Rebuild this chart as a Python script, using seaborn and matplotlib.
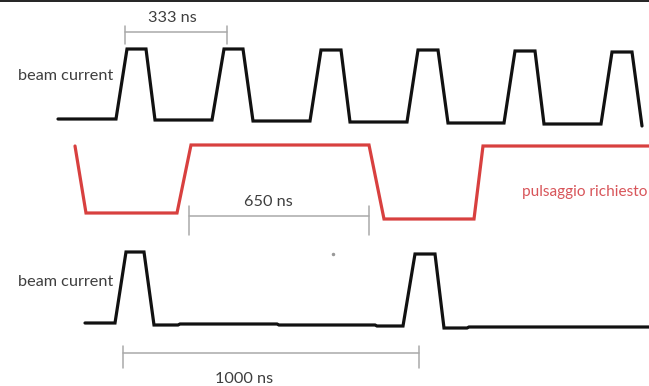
import matplotlib
matplotlib.use("Agg")
import matplotlib.pyplot as plt
import seaborn as sns
import pandas as pd

# Waveform vertices in drawing units (x to the right, y downward)
beam_fast_x = [58, 116, 127, 146, 155, 212, 224, 243, 253, 310, 321, 341, 350,
               407, 418, 438, 448, 504, 515, 535, 544, 601, 612, 632, 642]
beam_fast_y = [119, 119, 49, 49, 120, 120, 49, 49, 121, 121, 50, 50, 122,
               122, 50, 50, 123, 123, 51, 51, 124, 124, 52, 52, 126]

gate_x = [75, 86, 177, 191, 369, 384, 474, 483, 649]
gate_y = [146, 213, 213, 145, 145, 219, 219, 146, 146]

beam_slow_x = [85, 115, 126, 144, 154, 178, 180, 277, 279, 375, 377, 403, 415,
               435, 444, 467, 469, 649]
beam_slow_y = [323, 323, 252, 252, 325, 325, 324, 324, 325, 325, 326, 326, 254,
               254, 328, 328, 327, 327]

# Dimension markers: (label, x start, x end, line y, tick top, tick bottom, text x, text y)
dim_labels = ["333 ns", "650 ns", "1000 ns"]
dim_x0 = [125, 189, 123]
dim_x1 = [227, 369, 419]
dim_y = [32, 216, 353]
dim_tick_top = [26, 206, 346]
dim_tick_bot = [44, 235, 368]
dim_text_x = [172, 268, 244]
dim_text_y = [18, 202, 379]

signal_labels = ["beam current", "beam current"]
signal_label_x = [113, 113]
signal_label_y = [76, 282]

gate_label = "pulsaggio richiesto"

sns.set_theme(style="white")
plt.rcParams["font.family"] = ["Lato", "DejaVu Sans"]

fig = plt.figure(figsize=(6.49, 3.86), dpi=100)
ax = fig.add_axes([0, 0, 1, 1])

traces = pd.concat([
    pd.DataFrame({"x": beam_fast_x, "y": beam_fast_y, "trace": "beam_fast"}),
    pd.DataFrame({"x": gate_x, "y": gate_y, "trace": "gate"}),
    pd.DataFrame({"x": beam_slow_x, "y": beam_slow_y, "trace": "beam_slow"}),
], ignore_index=True)

palette = {"beam_fast": "#111111", "gate": "#d8403f", "beam_slow": "#111111"}
sns.lineplot(data=traces, x="x", y="y", hue="trace", palette=palette,
             sort=False, estimator=None, linewidth=2.3, legend=False, ax=ax,
             solid_joinstyle="miter")

dim_color = "#a9a9a9"
text_color = "#3e3e3e"
fs = 11.7
for lab, x0, x1, y, t0, t1, tx, ty in zip(dim_labels, dim_x0, dim_x1, dim_y,
                                          dim_tick_top, dim_tick_bot,
                                          dim_text_x, dim_text_y):
    ax.plot([x0, x1], [y, y], color=dim_color, lw=1.1)
    ax.plot([x0, x0], [t0, t1], color=dim_color, lw=1.1)
    ax.plot([x1, x1], [t0, t1], color=dim_color, lw=1.1)
    ax.text(tx, ty, lab, ha="center", va="center", fontsize=fs, color=text_color)

for lab, x, y in zip(signal_labels, signal_label_x, signal_label_y):
    ax.text(x, y, lab, ha="right", va="center", fontsize=fs, color=text_color)

ax.text(647, 192, gate_label, ha="right", va="center", fontsize=11.1,
        color="#d8555a")

# frame line along the top edge and a stray speck
ax.plot([0, 649], [0.8, 0.8], color="#222222", lw=1.4)
ax.plot([333], [254], marker="o", ms=1.5, color="#999999")

ax.set_xlim(0, 649)
ax.set_ylim(386, 0)
ax.axis("off")

fig.savefig("out.png", dpi=100, facecolor="white")
